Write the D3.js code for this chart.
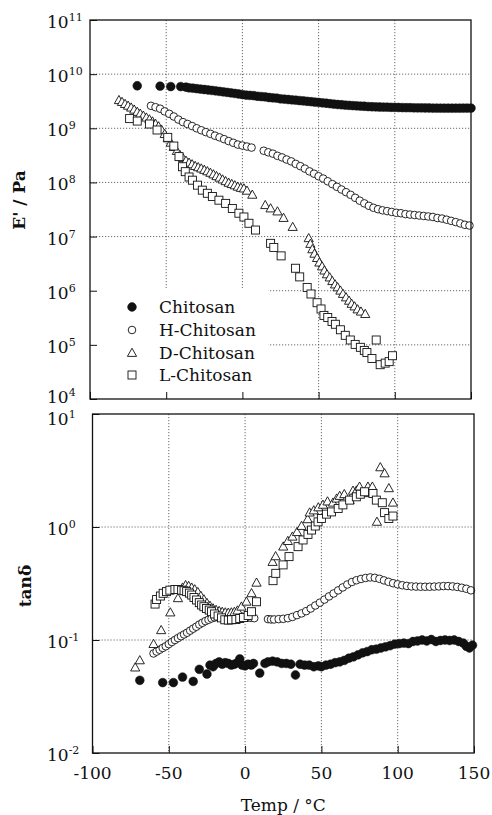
<!DOCTYPE html>
<html><head><meta charset="utf-8">
<script src="https://cdn.jsdelivr.net/npm/d3@7"></script>
<style>body{margin:0;background:#fff}svg{display:block}</style>
</head><body>
<svg id="c" width="492" height="815"></svg>
<script>
// ---------------- DATA ----------------
const seriesNames = ["Chitosan", "H-Chitosan", "D-Chitosan", "L-Chitosan"];
const xTickValues = [-100, -50, 0, 50, 100, 150];
const xTickLabels = ["-100", "-50", "0", "50", "100", "150"];
const eTickExps = [4, 5, 6, 7, 8, 9, 10, 11];
const tanTickExps = [-2, -1, 0, 1];

// E' (Pa) vs Temp (°C)
const eChitosan = [[-69,6.1e9],[-54,6.0e9],[-47,5.9e9],[-40.5,5.9e9],[-37,5.75e9],[-35,5.6e9],[-32.5,5.5e9],[-30,5.4e9],[-27.5,5.3e9],[-25,5.2e9],[-22.5,5.1e9],[-20,5.0e9],[-17.5,4.9e9],[-15,4.8e9],[-12.5,4.7e9],[-10,4.6e9],[-7.5,4.5e9],[-5,4.4e9],[-2.5,4.3e9],[0,4.2e9],[2.5,4.1e9],[5,4.05e9],[7.5,4.0e9],[10,3.9e9],[12.5,3.85e9],[15,3.8e9],[17.5,3.7e9],[20,3.65e9],[22.5,3.6e9],[25,3.5e9],[27.5,3.45e9],[30,3.4e9],[32.5,3.35e9],[35,3.3e9],[37.5,3.25e9],[40,3.2e9],[42.5,3.15e9],[45,3.1e9],[47.5,3.05e9],[50,3.0e9],[52.5,2.95e9],[55,2.9e9],[57.5,2.85e9],[60,2.8e9],[62.5,2.75e9],[65,2.72e9],[67.5,2.68e9],[70,2.65e9],[72.5,2.62e9],[75,2.6e9],[77.5,2.57e9],[80,2.55e9],[82.5,2.52e9],[85,2.5e9],[87.5,2.48e9],[90,2.47e9],[92.5,2.46e9],[95,2.45e9],[97.5,2.44e9],[100,2.43e9],[102.5,2.42e9],[105,2.41e9],[107.5,2.4e9],[110,2.4e9],[112.5,2.39e9],[115,2.38e9],[117.5,2.38e9],[120,2.37e9],[122.5,2.37e9],[125,2.36e9],[127.5,2.36e9],[130,2.35e9],[132.5,2.35e9],[135,2.35e9],[137.5,2.35e9],[140,2.35e9],[142.5,2.35e9],[145,2.36e9],[147.5,2.36e9],[150,2.36e9]];

const eHChitosan = [[-60,2.6e9],[-57,2.45e9],[-54,2.3e9],[-51,2.05e9],[-48,1.85e9],[-45,1.65e9],[-42,1.45e9],[-39,1.3e9],[-36,1.2e9],[-33,1.1e9],[-30,1.0e9],[-27,9.2e8],[-24,8.5e8],[-21,7.9e8],[-18,7.3e8],[-15,6.8e8],[-12,6.3e8],[-9,5.8e8],[-6,5.4e8],[-3,5.0e8],[0,4.8e8],[3,4.6e8],[6,4.4e8],[14,3.85e8],[17,3.6e8],[20,3.4e8],[23,3.1e8],[26,2.9e8],[29,2.65e8],[32,2.45e8],[35,2.2e8],[38,2.0e8],[41,1.8e8],[44,1.6e8],[47,1.45e8],[50,1.3e8],[53,1.18e8],[56,1.05e8],[59,9.3e7],[62,8.3e7],[65,7.4e7],[68,6.6e7],[71,5.9e7],[74,5.2e7],[77,4.6e7],[80,4.1e7],[83,3.7e7],[86,3.4e7],[89,3.2e7],[92,3.05e7],[95,2.95e7],[98,2.85e7],[101,2.75e7],[104,2.7e7],[107,2.6e7],[110,2.55e7],[113,2.5e7],[116,2.45e7],[119,2.4e7],[122,2.35e7],[125,2.3e7],[128,2.2e7],[131,2.15e7],[134,2.05e7],[137,1.95e7],[140,1.85e7],[143,1.75e7],[146,1.65e7],[149,1.6e7]];

const eDChitosan = [[-81,3.3e9],[-79,3.05e9],[-77,2.8e9],[-75,2.6e9],[-73,2.4e9],[-71,2.2e9],[-69,2.0e9],[-67,1.85e9],[-65,1.7e9],[-63,1.57e9],[-61,1.45e9],[-59,1.33e9],[-57,1.2e9],[-55,1.08e9],[-53,9.3e8],[-51,7.8e8],[-49,6.5e8],[-47,5.4e8],[-45,4.5e8],[-43,3.8e8],[-41,3.2e8],[-39,2.8e8],[-37,2.5e8],[-35,2.3e8],[-33,2.15e8],[-31,2.0e8],[-29,1.9e8],[-27,1.8e8],[-25,1.7e8],[-23,1.6e8],[-21,1.5e8],[-19,1.4e8],[-17,1.3e8],[-15,1.22e8],[-13,1.13e8],[-11,1.05e8],[-9,9.8e7],[-7,9.3e7],[-5,8.8e7],[-3,8.3e7],[-1,7.9e7],[1,7.7e7],[3,7.0e7],[6.5,5.9e7],[15,3.8e7],[18.5,3.3e7],[23,2.9e7],[27,2.2e7],[33,1.5e7],[43.5,9.3e6],[44.6,7.3e6],[45.9,5.8e6],[47.3,4.8e6],[49,4.0e6],[50.5,3.3e6],[52.3,2.8e6],[53.8,2.35e6],[55.5,2.0e6],[57.3,1.75e6],[59,1.5e6],[60.8,1.3e6],[62.5,1.15e6],[64.3,1.0e6],[66,8.7e5],[68,7.5e5],[70,6.5e5],[71.7,5.7e5],[73.6,5.1e5],[75.6,4.5e5],[77.8,4.1e5],[80.6,3.7e5]];

const eLChitosan = [[-74,1.51e9],[-69,1.36e9],[-61,1.2e9],[-56,9.3e8],[-49,6.8e8],[-45,4.7e8],[-41.6,3.0e8],[-39.3,1.95e8],[-37.5,1.58e8],[-35,1.26e8],[-32.8,1.1e8],[-29.5,8.9e7],[-26.3,7.2e7],[-23,6.3e7],[-19.7,5.5e7],[-15.4,4.7e7],[-11,4.1e7],[-6.6,3.3e7],[-2.3,2.7e7],[1,2.3e7],[4.3,1.76e7],[8.6,1.32e7],[18.5,7.5e6],[20.6,6.3e6],[25.4,4.4e6],[34.8,2.6e6],[37.6,1.8e6],[42.5,1.15e6],[45,8.7e5],[49,6.0e5],[51.6,4.6e5],[53.5,3.5e5],[56,3.2e5],[58.8,2.7e5],[61,2.4e5],[64.3,1.9e5],[67.5,1.5e5],[70.8,1.23e5],[74,1.02e5],[77.4,9.0e4],[80,7.9e4],[81.7,7.2e4],[85,5.6e4],[87.8,1.23e5],[90.4,4.3e4],[93.7,4.6e4],[96.3,4.9e4],[98.5,6.3e4]];

// tan delta vs Temp (°C)
const tanChitosan = [[-69,0.044],[-54,0.042],[-47,0.042],[-41,0.047],[-34,0.043],[-30,0.055],[-25,0.05],[-23,0.06],[-21,0.058],[-19,0.062],[-17,0.064],[-15,0.061],[-13,0.063],[-11,0.062],[-9,0.06],[-7,0.061],[-5,0.063],[-3.5,0.068],[-2,0.06],[0,0.059],[2,0.061],[4,0.06],[5.5,0.062],[9.6,0.051],[13,0.062],[15,0.064],[18,0.065],[21,0.064],[24,0.062],[27,0.062],[30,0.061],[33,0.049],[36,0.061],[39,0.06],[42,0.06],[45,0.058],[48,0.059],[50,0.058],[53,0.06],[56,0.061],[59,0.063],[62,0.064],[65,0.066],[68,0.069],[71,0.071],[74,0.074],[77,0.077],[80,0.079],[83,0.082],[86,0.083],[89,0.085],[92,0.087],[95,0.089],[98,0.092],[101,0.093],[104,0.094],[107,0.093],[110,0.097],[113,0.098],[116,0.1],[119,0.098],[122,0.101],[125,0.097],[128,0.099],[131,0.1],[134,0.099],[137,0.1],[140,0.097],[143,0.094],[145,0.088],[147,0.085],[149,0.09]];

const tanHChitosan = [[-60,0.076],[-58,0.079],[-56,0.082],[-54,0.085],[-52,0.088],[-50,0.092],[-48,0.096],[-46,0.1],[-44,0.104],[-42,0.108],[-40,0.112],[-38,0.116],[-36,0.121],[-34,0.126],[-32,0.131],[-30,0.137],[-28,0.142],[-26,0.147],[-24,0.151],[-22,0.155],[-20,0.158],[-18,0.16],[-16,0.162],[-14,0.163],[-12,0.163],[-10,0.164],[-8,0.164],[-6,0.163],[-4,0.162],[-2,0.161],[0,0.16],[2,0.158],[4,0.157],[6,0.156],[15,0.153],[17,0.152],[19,0.152],[22,0.153],[25,0.154],[28,0.156],[31,0.16],[34,0.166],[37,0.172],[40,0.18],[43,0.19],[46,0.202],[49,0.214],[52,0.228],[55,0.243],[58,0.258],[61,0.275],[64,0.292],[67,0.31],[70,0.326],[73,0.338],[76,0.347],[79,0.354],[82,0.358],[85,0.355],[88,0.348],[91,0.337],[94,0.327],[97,0.318],[100,0.311],[103,0.305],[106,0.301],[109,0.298],[112,0.297],[115,0.296],[118,0.296],[121,0.296],[124,0.297],[127,0.298],[130,0.3],[133,0.3],[136,0.298],[139,0.295],[142,0.29],[145,0.284],[148,0.275]];

const tanDChitosan = [[-72,0.057],[-69,0.066],[-60,0.092],[-55,0.122],[-49,0.175],[-44,0.234],[-41,0.29],[-39,0.305],[-37,0.3],[-35,0.29],[-33,0.28],[-31,0.265],[-29,0.245],[-27,0.228],[-25,0.212],[-23,0.2],[-21,0.19],[-19,0.184],[-17,0.18],[-15,0.177],[-13,0.175],[-11,0.174],[-9,0.175],[-7,0.177],[-5,0.182],[-2.4,0.197],[0.9,0.218],[4.2,0.259],[7.5,0.321],[18,0.49],[20,0.55],[25,0.67],[28,0.75],[31,0.82],[34,0.9],[37,1.02],[41,1.17],[42.3,1.34],[45,1.4],[48,1.49],[51,1.57],[54,1.68],[57.6,1.64],[60,1.78],[62,1.88],[65,1.95],[68.5,1.73],[70.7,2.09],[73,2.1],[75,2.27],[78.3,1.99],[80.5,2.27],[83.4,2.27],[86.4,1.11],[88.6,3.37],[91.4,2.98],[94.2,2.2],[96.9,1.64]];

const tanLChitosan = [[-59,0.208],[-58,0.228],[-55.5,0.245],[-53.7,0.259],[-51.5,0.268],[-49.3,0.276],[-46,0.28],[-44,0.28],[-41.6,0.276],[-40,0.273],[-38.3,0.268],[-36.5,0.26],[-35,0.25],[-33.5,0.238],[-31.8,0.226],[-30,0.214],[-28.5,0.204],[-27,0.197],[-25.3,0.19],[-23.5,0.184],[-22,0.178],[-20,0.17],[-17.7,0.163],[-15.5,0.157],[-13.3,0.151],[-11,0.15],[-8.9,0.151],[-6,0.152],[-3.5,0.155],[-1,0.158],[2,0.165],[4.2,0.178],[7.5,0.218],[18.3,0.335],[20.1,0.389],[24.9,0.462],[28.8,0.547],[34.7,0.67],[38,0.768],[41.2,0.86],[43.5,0.94],[46,1.02],[47.8,1.11],[50,1.19],[53.3,1.3],[56.6,1.36],[61,1.46],[64.1,1.57],[68.5,1.73],[72.9,1.85],[75.5,1.95],[78.3,2.05],[83.8,1.98],[86,1.73],[89.9,1.64],[91.4,1.34],[94.2,1.19],[96.9,1.25]];

// ---------------- DRAWING ----------------
const svg = d3.select("#c");
const FONT = "'DejaVu Serif', 'Liberation Serif', serif";
const INK = "#111";

const topP = {x0: 90, x1: 471, y0: 20, y1: 399};
const botP = {x0: 92.5, x1: 474, y0: 414, y1: 753};

const xTop = d3.scaleLinear().domain([-100, 150]).range([topP.x0, topP.x1]);
const yTop = d3.scaleLog().domain([1e4, 1e11]).range([topP.y1, topP.y0]);
const xBot = d3.scaleLinear().domain([-100, 150]).range([botP.x0, botP.x1]);
const yBot = d3.scaleLog().domain([1e-2, 1e1]).range([botP.y1, botP.y0]);

function grid(g, P, xs, ys, xInner, yInner) {
  const gg = g.append("g").attr("stroke", "#444").attr("stroke-width", 0.8)
    .attr("stroke-dasharray", "1.2,1.8").attr("fill", "none");
  xInner.forEach(v => gg.append("line").attr("x1", xs(v)).attr("x2", xs(v)).attr("y1", P.y0).attr("y2", P.y1));
  yInner.forEach(v => gg.append("line").attr("x1", P.x0).attr("x2", P.x1).attr("y1", ys(v)).attr("y2", ys(v)));
}

function axes(g, P, xs, ys, yExps, labelShift) {
  g.append("g").attr("transform", `translate(0,${P.y1})`)
    .call(d3.axisBottom(xs).tickValues(xTickValues).tickSizeInner(-7).tickSizeOuter(0).tickFormat(""))
    .call(a => a.select(".domain").remove())
    .selectAll("line").attr("stroke", INK);
  g.append("g").attr("transform", `translate(${P.x0},0)`)
    .call(d3.axisLeft(ys).tickValues(yExps.map(e => Math.pow(10, e))).tickSizeInner(-7).tickSizeOuter(0).tickFormat(""))
    .call(a => a.select(".domain").remove())
    .selectAll("line").attr("stroke", INK);
  g.append("rect").attr("x", P.x0).attr("y", P.y0).attr("width", P.x1 - P.x0).attr("height", P.y1 - P.y0)
    .attr("fill", "none").attr("stroke", INK).attr("stroke-width", 1.3);
  yExps.forEach(e => {
    const t = g.append("text").attr("x", 47).attr("y", ys(Math.pow(10, e)) + labelShift(e))
      .attr("font-family", FONT).attr("font-size", 17).attr("fill", INK);
    t.append("tspan").text("10");
    t.append("tspan").attr("dy", -7).attr("font-size", 11).text(String(e));
  });
}

// ---- top panel ----
const gTop = svg.append("g");
grid(gTop, topP, xTop, yTop, [-50, 0, 50, 100], [1e5, 1e6, 1e7, 1e8, 1e9, 1e10]);
gTop.append("rect").attr("x", topP.x0).attr("y", 288).attr("width", 268 - topP.x0).attr("height", topP.y1 - 288).attr("fill", "#fff");

// ---- bottom panel ----
const gBot = svg.append("g");
grid(gBot, botP, xBot, yBot, [-50, 0, 50, 100], [1e-1, 1e0]);

function marker(sel, kind) {
  if (kind === "filled") {
    sel.append("circle").attr("r", 4.4).attr("fill", INK).attr("stroke", INK).attr("stroke-width", 0.5);
  } else if (kind === "circle") {
    sel.append("circle").attr("r", 3.8).attr("fill", "#fff").attr("stroke", INK).attr("stroke-width", 0.9);
  } else if (kind === "square") {
    sel.append("rect").attr("x", -4).attr("y", -4).attr("width", 8).attr("height", 8)
      .attr("fill", "#fff").attr("stroke", INK).attr("stroke-width", 0.9);
  } else {
    sel.append("path").attr("d", "M0,-4.8L4.6,3.4L-4.6,3.4Z")
      .attr("fill", "#fff").attr("stroke", INK).attr("stroke-width", 0.9);
  }
}
const kinds = ["filled", "circle", "triangle", "square"];

function plot(g, data, xs, ys, kind) {
  const sel = g.append("g").selectAll("g").data(data).join("g")
    .attr("transform", d => `translate(${xs(d[0])},${ys(d[1])})`);
  marker(sel, kind);
}

[eChitosan, eHChitosan, eDChitosan, eLChitosan].forEach((d, i) => plot(gTop, d, xTop, yTop, kinds[i]));
[tanChitosan, tanHChitosan, tanDChitosan, tanLChitosan].forEach((d, i) => plot(gBot, d, xBot, yBot, kinds[i]));

axes(gTop, topP, xTop, yTop, eTickExps, e => (e === 4 ? 4 : 8));
axes(gBot, botP, xBot, yBot, tanTickExps, e => (e === 1 ? 11 : 8));

// legend
const legY = [307, 330, 353, 375];
seriesNames.forEach((name, i) => {
  const lg = svg.append("g").attr("transform", `translate(132,${legY[i]})`);
  marker(lg, kinds[i]);
  svg.append("text").attr("x", 159).attr("y", legY[i] + 6)
    .attr("font-family", FONT).attr("font-size", 17).attr("fill", INK).text(name);
});

xTickValues.forEach((v, i) => {
  svg.append("text").attr("x", xBot(v)).attr("y", botP.y1 + 26).attr("text-anchor", "middle")
    .attr("font-family", FONT).attr("font-size", 17).attr("fill", INK).text(xTickLabels[i]);
});

svg.append("text").attr("x", (botP.x0 + botP.x1) / 2).attr("y", 811).attr("text-anchor", "middle")
  .attr("font-family", FONT).attr("font-size", 17).attr("fill", INK).text("Temp / °C");
svg.append("text").attr("transform", "translate(25,200) rotate(-90)").attr("text-anchor", "middle")
  .attr("font-family", FONT).attr("font-size", 17).attr("font-weight", "bold").attr("fill", INK).text("E' / Pa");
svg.append("text").attr("transform", "translate(31,586) rotate(-90)").attr("text-anchor", "middle")
  .attr("font-family", FONT).attr("font-size", 17).attr("font-weight", "bold").attr("fill", INK).text("tanδ");
</script>
</body></html>
